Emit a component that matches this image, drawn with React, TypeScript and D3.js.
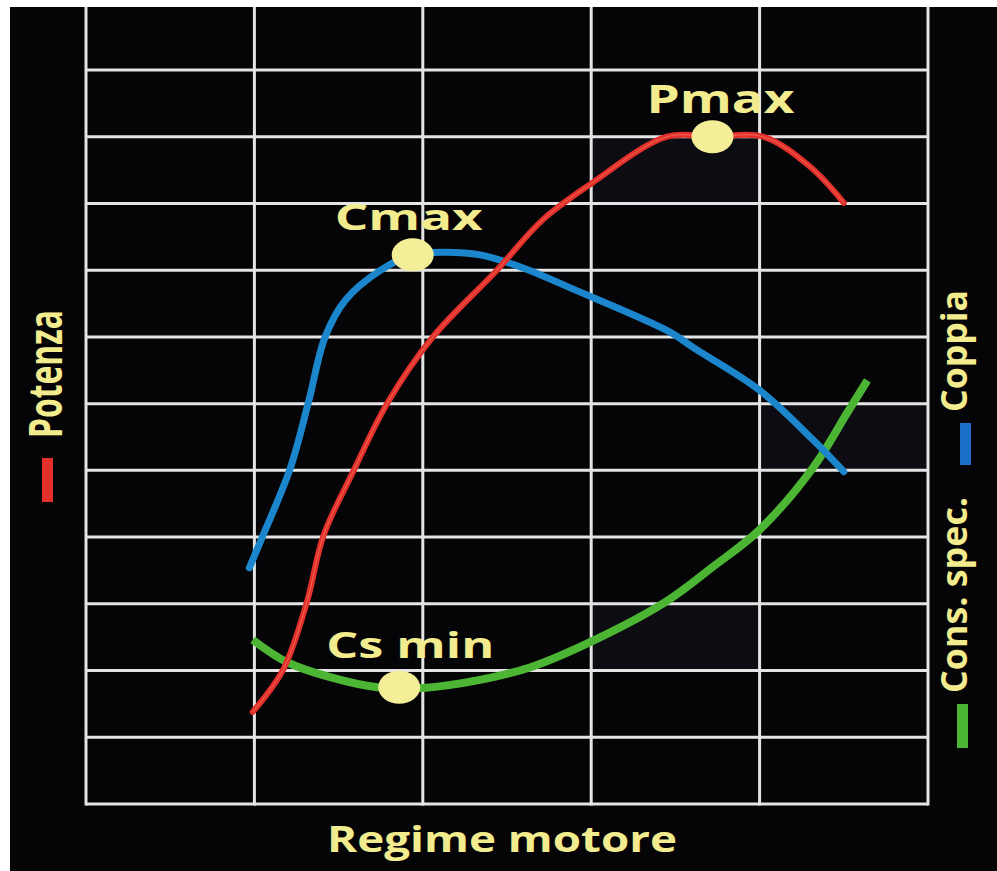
import * as d3 from 'd3';
import React, { useRef, useEffect } from 'react';

// curves in grid units: x = column (0..5), y = row (0..11 from bottom line)
const potenza: [number, number][] = [
  [0.99, 1.38], [1.17, 2.01], [1.31, 3.01], [1.41, 4.02], [1.59, 5.0],
  [1.79, 6.01], [2.06, 7.0], [2.44, 8.0], [2.71, 8.75], [2.99, 9.28],
  [3.45, 10.0], [3.72, 10.0], [4.02, 10.0], [4.3, 9.55], [4.5, 9.01]
];
const coppia: [number, number][] = [
  [0.97, 3.54], [1.05, 4.02], [1.21, 5.01], [1.32, 6.01], [1.42, 7.0],
  [1.54, 7.55], [1.75, 8.0], [1.94, 8.23], [2.13, 8.27], [2.34, 8.23],
  [2.6, 8.03], [2.89, 7.72], [3.47, 7.07], [3.6, 6.85], [4.0, 6.2],
  [4.32, 5.45], [4.5, 4.98]
];
const consumo: [number, number][] = [
  [0.99, 2.46], [1.19, 2.13], [1.45, 1.9], [1.73, 1.75], [2.0, 1.74],
  [2.34, 1.86], [2.64, 2.05], [2.93, 2.35], [3.43, 3.01], [3.72, 3.55],
  [4.0, 4.11], [4.32, 5.05], [4.52, 5.86], [4.64, 6.35]
];

const markerNames = ['Pmax', 'Cmax', 'Cs min'];
const markerPos: [number, number][] = [[3.72, 10.0], [1.94, 8.23], [1.86, 1.75]];

// faintly lit cells [col, row]
const shadedCells: [number, number][] = [[3, 9], [4, 5], [3, 2]];

const columns = d3.range(0, 6);
const rows = d3.range(0, 12);

const App = () => {
  const ref = useRef<SVGSVGElement>(null);

  useEffect(() => {
    const svg = d3.select(ref.current);
    svg.selectAll('*').remove();

    const W = 997, H = 871;
    svg.attr('width', W).attr('height', H);

    svg.append('rect').attr('width', W).attr('height', H).attr('fill', '#ffffff');
    svg.append('rect').attr('x', 10).attr('y', 7).attr('width', W - 10).attr('height', H - 7).attr('fill', '#050508');

    const x = d3.scaleLinear().domain([0, 5]).range([86, 928]);
    const y = d3.scaleLinear().domain([0, 11]).range([804, 70]);

    svg.append('g').selectAll('rect').data(shadedCells).enter().append('rect')
      .attr('x', d => x(d[0])).attr('y', d => y(d[1] + 1))
      .attr('width', x(1) - x(0)).attr('height', y(0) - y(1))
      .attr('fill', '#0c0c12');

    const grid = svg.append('g').attr('stroke', '#e4e4e4').attr('stroke-width', 3);
    grid.selectAll('.h').data(rows).enter().append('line')
      .attr('x1', x(0)).attr('x2', x(5)).attr('y1', d => y(d)).attr('y2', d => y(d));
    grid.selectAll('.v').data(columns).enter().append('line')
      .attr('x1', d => x(d)).attr('x2', d => x(d)).attr('y1', 7).attr('y2', y(0) + 1.5);

    const line = d3.line<[number, number]>()
      .x(d => x(d[0])).y(d => y(d[1]))
      .curve(d3.curveCatmullRom.alpha(0.5));

    svg.append('path').attr('d', line(consumo)).attr('fill', 'none')
      .attr('stroke', '#4cb534').attr('stroke-width', 8);
    svg.append('path').attr('d', line(coppia)).attr('fill', 'none')
      .attr('stroke', '#1b86cb').attr('stroke-width', 7).attr('stroke-linecap', 'round');
    svg.append('path').attr('d', line(potenza)).attr('fill', 'none')
      .attr('stroke', '#e3302a').attr('stroke-width', 6).attr('stroke-linecap', 'round');
    svg.append('path').attr('d', line(potenza)).attr('fill', 'none')
      .attr('stroke', '#f6a080').attr('stroke-width', 1).attr('opacity', 0.5);

    const yellow = '#f3ec8e';
    const labelLen = [148, 148, 168];
    const labelDy = [-24, -25, -29];
    const labelDx = [8, -4, 11];

    svg.append('g').selectAll('ellipse').data(markerPos).enter().append('ellipse')
      .attr('cx', d => x(d[0])).attr('cy', d => y(d[1]))
      .attr('rx', 21).attr('ry', 16.5).attr('fill', '#f5ee98');

    svg.append('g').selectAll('text').data(markerNames).enter().append('text')
      .attr('x', (d, i) => x(markerPos[i][0]) + labelDx[i])
      .attr('y', (d, i) => y(markerPos[i][1]) + labelDy[i])
      .attr('text-anchor', 'middle')
      .attr('textLength', (d, i) => labelLen[i])
      .attr('lengthAdjust', 'spacingAndGlyphs')
      .attr('font-family', 'Open Sans')
      .attr('font-weight', 700)
      .attr('font-size', (d, i) => (i === 0 ? 39 : 36))
      .attr('fill', yellow)
      .text(d => d);

    svg.append('text')
      .attr('x', 502).attr('y', 852)
      .attr('text-anchor', 'middle')
      .attr('textLength', 350).attr('lengthAdjust', 'spacingAndGlyphs')
      .attr('font-family', 'Open Sans').attr('font-weight', 700).attr('font-size', 35)
      .attr('fill', yellow)
      .text('Regime motore');

    // rotated legend labels
    const side = (label: string, bx: number, cy: number, len: number, size: number) =>
      svg.append('text')
        .attr('transform', `translate(${bx},${cy}) rotate(-90)`)
        .attr('text-anchor', 'middle')
        .attr('textLength', len).attr('lengthAdjust', 'spacingAndGlyphs')
        .attr('font-family', 'Open Sans').attr('font-weight', 700).attr('font-size', size)
        .attr('fill', yellow)
        .text(label);

    side('Potenza', 62, 374, 128, 46);
    side('Coppia', 967, 351, 122, 36);
    side('Cons. spec.', 967, 595, 196, 36);

    svg.append('rect').attr('x', 42).attr('y', 458).attr('width', 11).attr('height', 44).attr('fill', '#e3302a');
    svg.append('rect').attr('x', 960).attr('y', 423).attr('width', 11).attr('height', 42).attr('fill', '#1b70c8');
    svg.append('rect').attr('x', 957).attr('y', 704).attr('width', 11).attr('height', 44).attr('fill', '#4cb534');
  }, []);

  return (
    <div className='chart' style={{ position: 'absolute', left: 0, top: 0 }}>
      <svg ref={ref} style={{ display: 'block' }}>
      </svg>
    </div>
  );
};

export default App;
